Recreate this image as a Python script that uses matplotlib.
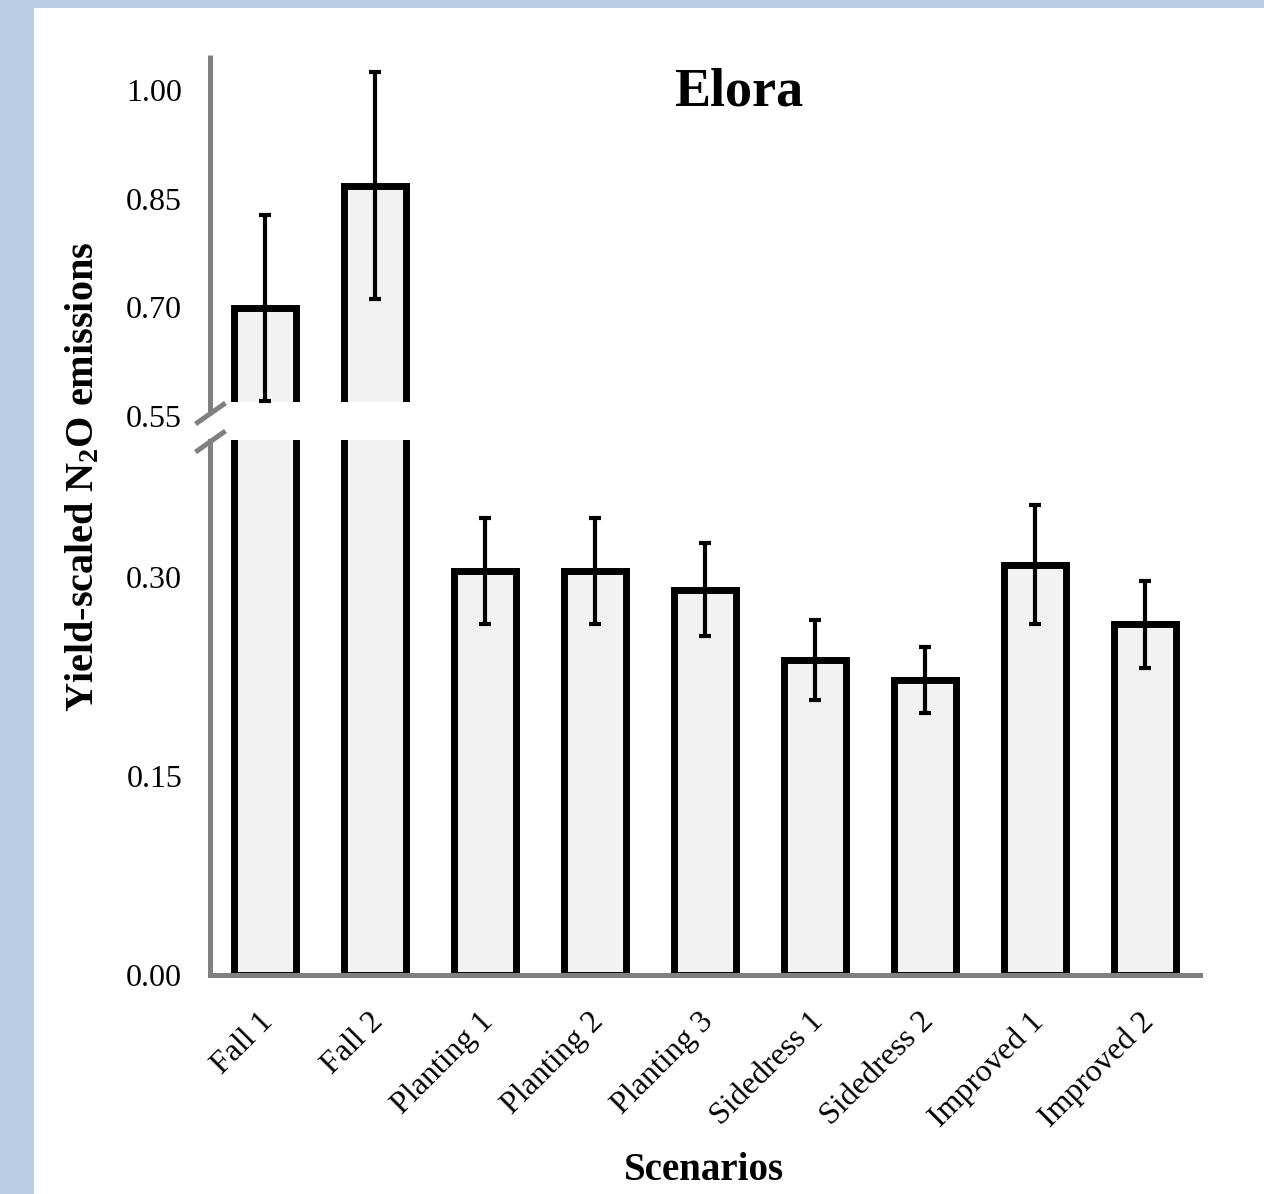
import numpy as np
import matplotlib
matplotlib.use('Agg')
import matplotlib.pyplot as plt
from matplotlib.patches import Rectangle
from matplotlib.ticker import FixedLocator, FormatStrFormatter, NullLocator
from matplotlib.transforms import ScaledTranslation

categories = ['Fall 1', 'Fall 2', 'Planting 1', 'Planting 2', 'Planting 3',
              'Sidedress 1', 'Sidedress 2', 'Improved 1', 'Improved 2']
values = [0.699, 0.868, 0.304, 0.304, 0.290, 0.237, 0.222, 0.309, 0.264]
errors = [0.128, 0.156, 0.040, 0.040, 0.035, 0.030, 0.025, 0.045, 0.033]
yticks = [0.00, 0.15, 0.30, 0.55, 0.70, 0.85, 1.00]
title = 'Elora'
xlabel = 'Scenarios'
ylabel = 'Yield-scaled N$_2$O emissions'

plt.rcParams['font.family'] = ['Liberation Serif', 'DejaVu Serif']
plt.rcParams['mathtext.fontset'] = 'custom'
plt.rcParams['mathtext.rm'] = 'Liberation Serif:bold'
plt.rcParams['mathtext.default'] = 'rm'

# piecewise (broken) y scale
V1, V2 = 0.40, 0.55
A, G, B = 1326.7, 184.0, 724.4
F1 = V1 * A
F2 = F1 + (V2 - V1) * G


def fwd(v):
    v = np.asarray(v, dtype=float)
    return np.where(v <= V1, v * A,
                    np.where(v <= V2, F1 + (v - V1) * G, F2 + (v - V2) * B))


def inv(f):
    f = np.asarray(f, dtype=float)
    return np.where(f <= F1, f / A,
                    np.where(f <= F2, V1 + (f - F1) / G, V2 + (f - F2) / B))


W, H = 1264, 1194
fig = plt.figure(figsize=(W / 100, H / 100), dpi=100)
fig.patch.set_facecolor('#b9cde5')
fig.add_artist(Rectangle((34 / W, 0), 1, 1 - 8 / H, transform=fig.transFigure,
                         facecolor='white', edgecolor='none', zorder=0))

ax = fig.add_axes([210 / W, (H - 975) / H, 990 / W, (975 - 55) / H])
ax.set_facecolor('none')
ax.set_yscale('function', functions=(fwd, inv))
ax.set_ylim(0, 1.048)
ax.set_xlim(-0.5, len(categories) - 0.5)

x = np.arange(len(categories))
ax.bar(x, values, width=0.57, color='#f2f2f2', edgecolor='black',
       linewidth=5, zorder=2)
# white gap of the axis break
ax.add_patch(Rectangle((0, 0.418), 1, 0.569 - 0.418,
                       transform=ax.get_yaxis_transform(),
                       facecolor='white', edgecolor='none', zorder=2.5))
ax.errorbar(x, values, yerr=errors, fmt='none', ecolor='black',
            elinewidth=3, capsize=4.5, capthick=3, zorder=3)

for s in ['top', 'right', 'left']:
    ax.spines[s].set_visible(False)
ax.spines['bottom'].set_color('#808080')
ax.spines['bottom'].set_linewidth(3.6)

gray = '#808080'
ytr = ax.get_yaxis_transform()
ax.plot([0, 0], [0, 0.4125], transform=ytr, color=gray, lw=3.6,
        clip_on=False, solid_capstyle='projecting', zorder=4)
ax.plot([0, 0], [0.555, 1.048], transform=ytr, color=gray, lw=3.6,
        clip_on=False, solid_capstyle='butt', zorder=4)
ax.plot([0, 0], [0.4125, 0.555], transform=ytr, marker=[(-1, -0.7), (1, 0.7)],
        markersize=21.6, ls='none', mec=gray, mfc=gray, mew=3.6,
        clip_on=False, zorder=4)

ax.yaxis.set_major_locator(FixedLocator(yticks))
ax.yaxis.set_major_formatter(FormatStrFormatter('%.2f'))
ax.yaxis.set_minor_locator(NullLocator())
ax.tick_params(axis='y', length=0, pad=20, labelsize=23)

ax.set_xticks(x)
ax.set_xticklabels(categories, rotation=45, ha='right', rotation_mode='anchor',
                   fontsize=23)
ax.tick_params(axis='x', length=0, pad=23)
shift = ScaledTranslation(-6 / 100, 0, fig.dpi_scale_trans)
for lab in ax.get_xticklabels():
    lab.set_transform(lab.get_transform() + shift)

fig.text(739 / W, (H - 106) / H, title, fontsize=39, fontweight='bold',
         ha='center', va='baseline')
fig.text(704 / W, (H - 1180) / H, xlabel, fontsize=28, fontweight='bold',
         ha='center', va='baseline')
fig.text(83 / W, (H - 477) / H, ylabel, fontsize=29, fontweight='bold',
         rotation=90, ha='center', va='center')

fig.savefig('out.png', dpi=100)
